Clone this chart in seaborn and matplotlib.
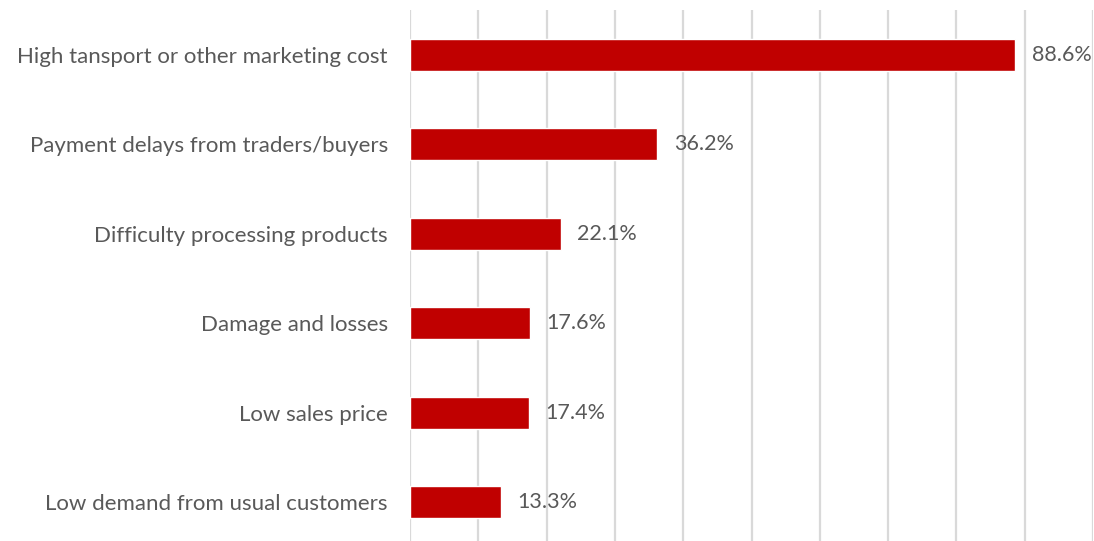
import matplotlib
matplotlib.use("Agg")
import matplotlib.pyplot as plt
import seaborn as sns
import pandas as pd
import numpy as np

categories = [
    "High tansport or other marketing cost",
    "Payment delays from traders/buyers",
    "Difficulty processing products",
    "Damage and losses",
    "Low sales price",
    "Low demand from usual customers",
]
shares = [88.6, 36.2, 22.1, 17.6, 17.4, 13.3]

sns.set_theme(style="white")
plt.rcParams["font.family"] = ["Lato", "DejaVu Sans"]

df = pd.DataFrame({"problem": categories, "share": shares})

fig = plt.figure(figsize=(10.94, 5.41), dpi=100)
ax = fig.add_axes([410 / 1094, 0.0, 683 / 1094, 1 - 10 / 541])

sns.barplot(data=df, y="problem", x="share", orient="h", color="#c00000",
            saturation=1, width=0.36, ax=ax, zorder=3)

ax.set_xlim(0, 100)
ax.set_ylim(5.436, -0.503)
ax.set_xticks(np.arange(0, 101, 10))
ax.xaxis.grid(True, color="#d9d9d9", linewidth=1.6, zorder=0)
ax.yaxis.grid(False)
ax.set_axisbelow(True)
ax.tick_params(axis="x", length=0, labelbottom=False)
ax.tick_params(axis="y", length=0, pad=16, labelsize=16, labelcolor="#595959")
ax.set_xlabel("")
ax.set_ylabel("")
for s in ax.spines.values():
    s.set_visible(False)

for i, v in enumerate(shares):
    ax.text(v + 2.4, i, f"{v:.1f}%", va="center", ha="left",
            fontsize=15.5, color="#595959")

fig.savefig("out.png", dpi=100)
